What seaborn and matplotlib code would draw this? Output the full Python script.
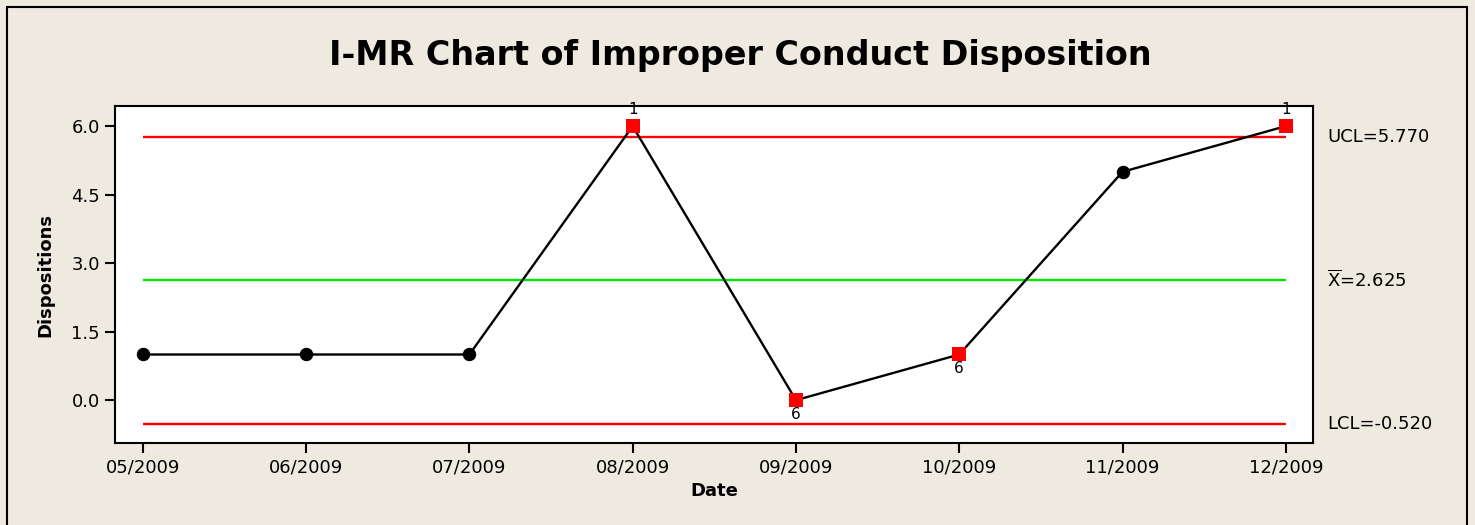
import numpy as np
import pandas as pd
import seaborn as sns
import matplotlib.pyplot as plt
from matplotlib.patches import Rectangle
from matplotlib.transforms import blended_transform_factory

# Datos del grafico I-MR
dates = ["05/2009", "06/2009", "07/2009", "08/2009", "09/2009", "10/2009", "11/2009", "12/2009"]
dispositions = [1, 1, 1, 6, 0, 1, 5, 6]
test_flags = ["", "", "", "1", "6", "6", "", "1"]
limit_names = [r"UCL=5.770", r"$\mathregular{\overline{X}}$=2.625", r"LCL=-0.520"]
limit_values = [5.770, 2.625, -0.520]
limit_colors = ["#ff0000", "#00e600", "#ff0000"]
yticks = [0.0, 1.5, 3.0, 4.5, 6.0]

df = pd.DataFrame({"pos": range(len(dates)), "Date": dates,
                   "Dispositions": dispositions, "flag": test_flags})
df["out"] = df["flag"] != ""

sns.set_style("white")
plt.rcParams["font.family"] = ["DejaVu Sans"]
plt.rcParams["text.color"] = "black"
plt.rcParams["axes.labelcolor"] = "black"
plt.rcParams["xtick.color"] = "black"
plt.rcParams["ytick.color"] = "black"

bg = "#eeeae0"
fig = plt.figure(figsize=(14.75, 5.25), dpi=100, facecolor=bg)
ax = fig.add_axes([0.078, 0.156, 0.812, 0.642])
ax.set_facecolor("white")

# Lineas de control
for name, val, col in zip(limit_names, limit_values, limit_colors):
    ax.hlines(val, 0, len(dates) - 1, color=col, lw=1.7, zorder=1)
    ax.text(1.012, val, name, transform=blended_transform_factory(ax.transAxes, ax.transData),
            ha="left", va="center", fontsize=13)

sns.lineplot(data=df, x="pos", y="Dispositions", color="black", lw=1.7, ax=ax, zorder=2)
sns.scatterplot(data=df[~df["out"]], x="pos", y="Dispositions", color="black", marker="o",
                s=80, edgecolor="black", ax=ax, zorder=3)
sns.scatterplot(data=df[df["out"]], x="pos", y="Dispositions", color="#ff0000", marker="s",
                s=90, edgecolor="#ff0000", linewidth=0, ax=ax, zorder=3)

# Etiquetas de las pruebas
for _, r in df[df["out"]].iterrows():
    if r["flag"] == "1":
        ax.text(r["pos"], r["Dispositions"] + 0.2, r["flag"], ha="center", va="bottom", fontsize=11)
    else:
        ax.text(r["pos"], r["Dispositions"] - 0.15, r["flag"], ha="center", va="top", fontsize=11)

ax.set_xlim(-0.17, 7.165)
ax.set_ylim(-0.94, 6.44)
ax.set_xticks(df["pos"])
ax.set_xticklabels(dates, fontsize=13)
ax.set_yticks(yticks)
ax.set_yticklabels([f"{t:.1f}" for t in yticks], fontsize=13)
ax.tick_params(direction="out", length=7, width=1.5, color="black", left=True, bottom=True, pad=4)
for s in ax.spines.values():
    s.set_color("black")
    s.set_linewidth(1.5)

ax.set_xlabel("Date", fontsize=13, fontweight="bold", labelpad=4)
ax.set_ylabel("Dispositions", fontsize=13, fontweight="bold", labelpad=12)

fig.suptitle("I-MR Chart of Improper Conduct Disposition", fontsize=24, fontweight="bold",
             x=0.502, y=0.895, va="center", color="black")

# Marco exterior
fig.patches.append(Rectangle((7 / 1475, -0.05), 1460 / 1475, 1.05 - 7 / 525, transform=fig.transFigure,
                             fill=False, edgecolor="black", lw=1.5, clip_on=False))

fig.savefig("out.png", dpi=100, facecolor=bg)
